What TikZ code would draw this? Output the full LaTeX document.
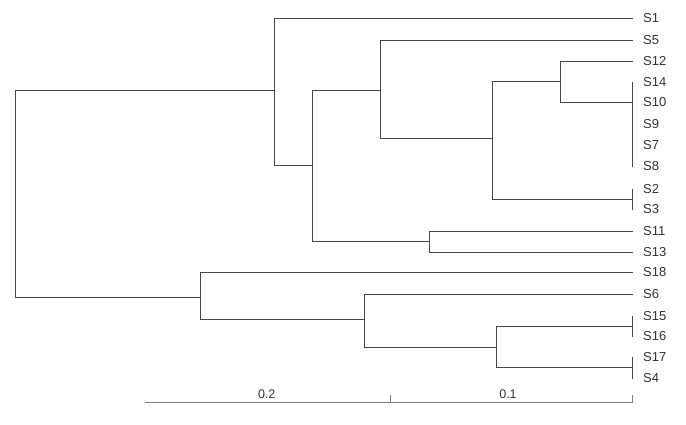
\documentclass[tikz,border=0pt]{standalone}
\usepackage{fontspec}
\setmainfont{Liberation Sans}
\begin{document}
\begin{tikzpicture}[x=1pt,y=-1pt,
  br/.style={draw=black!72,line width=1.2pt,line cap=rect},
  leaf/.style={anchor=west,inner sep=0pt,font=\fontsize{13}{13}\selectfont,text=black!80},
  scalebar/.style={draw=black!50,line width=1.1pt},
  scalelbl/.style={inner sep=0pt,font=\fontsize{12.5}{12.5}\selectfont,text=black!80}]
\useasboundingbox (0,0) rectangle (686,425);
% leaves
\foreach \n/\y in {S1/18.5,S5/40.5,S12/61.5,S14/82.5,S10/102.5,S9/124,S7/145,S8/166.5,S2/189.5,S3/209.5,S11/231.5,S13/252.5,S18/272.5,S6/294.5,S15/316.5,S16/336.5,S17/357.5,S4/378.5}{
  \coordinate (t\n) at (632.5,\y);
  \node[leaf] (l\n) at (643,\y) {\n};
}
% internal nodes
\coordinate (nS12) at (560.5,81.5);
\coordinate (nA) at (492.5,138.5);
\coordinate (nB) at (380.5,90.5);
\coordinate (nC) at (429.5,241.5);
\coordinate (nD) at (312.5,165.5);
\coordinate (nE) at (274.5,90.5);
\coordinate (root) at (15.5,193.5);
\coordinate (nF) at (200.5,297.5);
\coordinate (nG) at (364.5,319.5);
\coordinate (nH) at (496.5,347.5);
\coordinate (c23) at (632.5,199.5);
\coordinate (c1516) at (632.5,326.5);
\coordinate (c174) at (632.5,367.5);
% branches
\draw[br] (tS14) -- (tS8);
\draw[br] (tS12) -| (nS12) |- (tS10);
\draw[br] (tS2) -- (tS3);
\draw[br] (nS12) -| (nA) |- (c23);
\draw[br] (tS5) -| (nB) |- (nA);
\draw[br] (tS11) -| (nC) |- (tS13);
\draw[br] (nB) -| (nD) |- (nC);
\draw[br] (tS1) -| (nE) |- (nD);
\draw[br] (nE) -| (root) |- (nF);
\draw[br] (tS18) -| (nF) |- (nG);
\draw[br] (tS6) -| (nG) |- (nH);
\draw[br] (tS15) -- (tS16);
\draw[br] (tS17) -- (tS4);
\draw[br] (c1516) -| (nH) |- (c174);
% scale bar
\coordinate (sb0) at (145,402.5);
\coordinate (sb1) at (390.5,402.5);
\coordinate (sb2) at (632.5,402.5);
\draw[scalebar] (sb0) -- (sb2) -- ++(0,-7.5);
\draw[scalebar] (sb1) -- ++(0,-7.5);
\node[scalelbl] (s02) at (266.7,394.5) {0.2};
\node[scalelbl] (s01) at (508,394.5) {0.1};
\end{tikzpicture}
\end{document}
